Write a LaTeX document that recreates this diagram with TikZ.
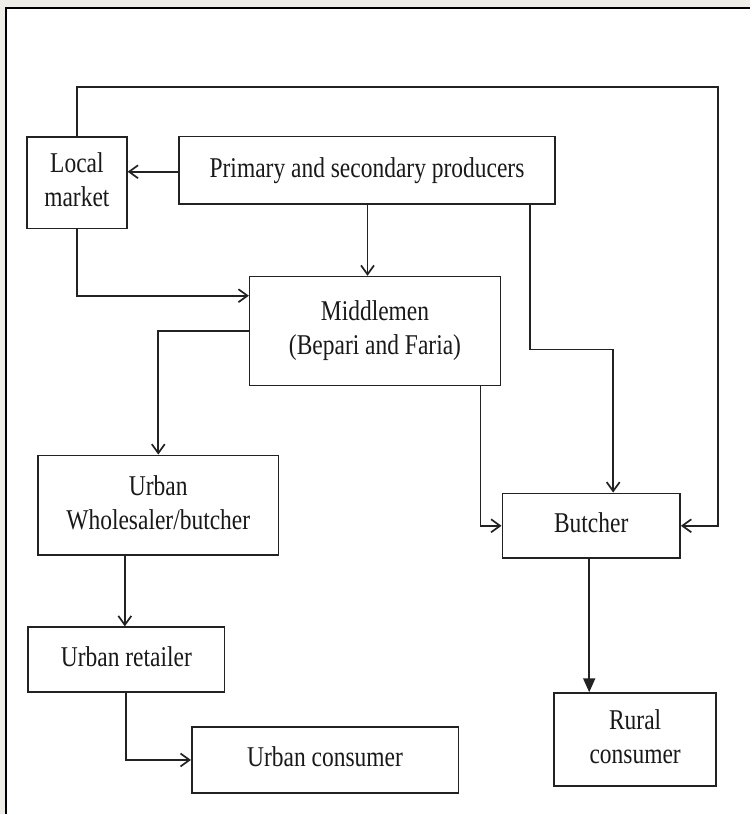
\documentclass[tikz,border=0pt]{standalone}
\usepackage{fontspec}
\setmainfont{Liberation Serif}
\usepackage{graphicx}
\usepackage{tikz}
\usetikzlibrary{arrows.meta}
\usetikzlibrary{calc}
\usetikzlibrary{positioning}

\definecolor{pagegrey}{HTML}{EEEDE8}
\definecolor{inkline}{HTML}{222222}

% text of the boxes, set a little taller than wide
\newcommand{\boxtext}[1]{\scalebox{1}[1.22]{\begin{tabular}{@{}c@{}}#1\end{tabular}}}

\begin{document}
\begin{tikzpicture}[
			x=1pt, y=-1pt,
			every node/.style={draw=inkline, line width=1.6pt, inner sep=0pt,
					font=\fontsize{23.5}{28}\selectfont, text=black!90},
			flow/.style={draw=inkline, line width=1.7pt,
					-{Straight Barb[length=9pt, width=13pt, line width=1.7pt]}},
			flowfill/.style={draw=inkline, line width=1.8pt,
					-{Triangle[length=14pt, width=12pt]}}
		]
		% page frame
		\fill[pagegrey] (0,0) rectangle (751,815);
		\fill[white] (6,8) rectangle (751,815);
		\draw[line width=2.2pt] (6,815) -- (6,8) -- (751,8);

		\node (local) [minimum width=100pt, minimum height=92pt] at (77,183) {\boxtext{Local\\market}};
		\node (prod) [minimum width=377pt, minimum height=68pt] at (367.5,170.5) {\boxtext{Primary and secondary producers}};
		\node (mid) [minimum width=251pt, minimum height=109pt] at (375.5,331.5) {\boxtext{Middlemen\\(Bepari and Faria)}};
		\node (whole) [minimum width=241pt, minimum height=100pt] at (158.5,506) {\boxtext{Urban\\Wholesaler/butcher}};
		\node (butch) [minimum width=178pt, minimum height=65pt] at (592,526.5) {\boxtext{Butcher}};
		\node (ret) [minimum width=197pt, minimum height=65pt] at (126.5,660.5) {\boxtext{Urban retailer}};
		\node (ucons) [minimum width=267pt, minimum height=66pt] at (325.5,761) {\boxtext{Urban consumer}};
		\node (rcons) [minimum width=162pt, minimum height=93pt] at (636,740.5) {\boxtext{Rural\\consumer}};

		\coordinate (loop) at (719,87);
		\coordinate (pb1) at (531,350);
		\coordinate (pb2) at (614,350);
		\coordinate (mb) at (481,0);

		\draw[flow] (prod.west |- 0,172) -- (local.east |- 0,172);
		\draw[flow] (local.north) |- (loop) |- (butch.east);
		\draw[flow] (local.south) |- ($(mid.north west)!0.18!(mid.south west)$);
		\draw[flow] (prod.south -| 368,0) -- (mid.north -| 368,0);
		\draw[flow] (prod.south -| pb1) -- (pb1) -- (pb2) -- (pb2 |- butch.north);
		\draw[flow] (mid.south -| mb) |- (butch.west);
		\draw[flow] (mid.west) -| (whole.north);
		\draw[flow] (whole.south -| 125,0) -- (ret.north -| 125,0);
		\draw[flow] (ret.south) |- (ucons.west);
		% heavier tip to the rural side
		\draw[flowfill] (butch.south -| 590,0) -- (rcons.north -| 590,0);
	\end{tikzpicture}
\end{document}
